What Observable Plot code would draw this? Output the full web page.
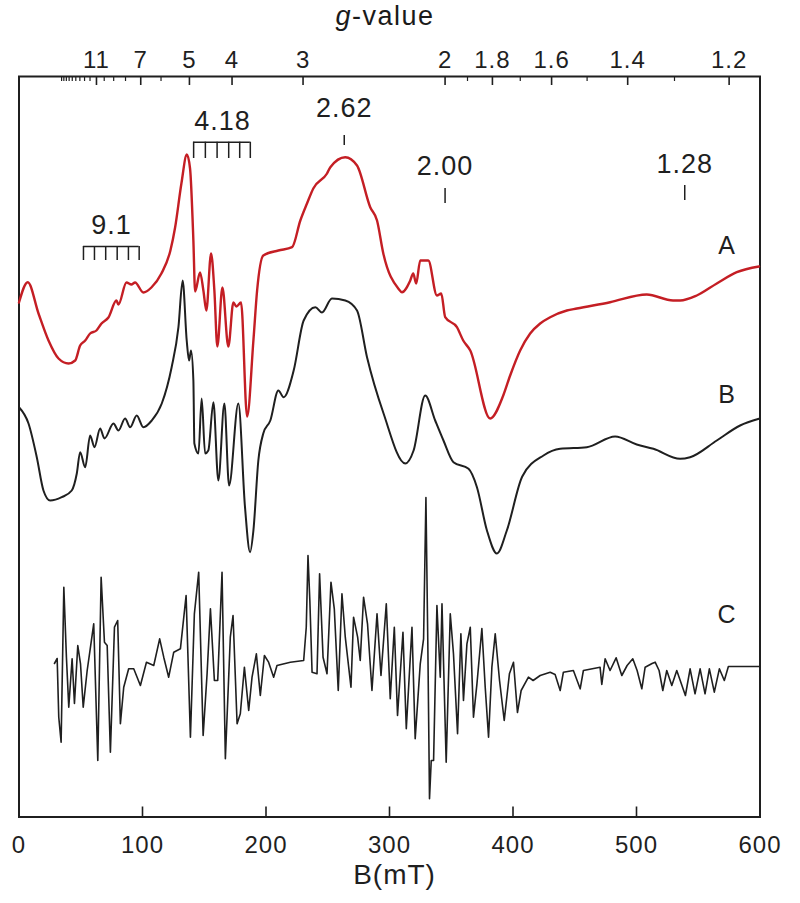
<!DOCTYPE html>
<html><head><meta charset="utf-8">
<script src="https://cdn.jsdelivr.net/npm/d3@7"></script>
<script src="https://cdn.jsdelivr.net/npm/@observablehq/plot@0.6"></script>
<style>
html,body{margin:0;padding:0;background:#fff;}
body{font-family:"Liberation Sans",Arial,sans-serif;color:#1a1a1a;width:800px;}
#title{position:relative;height:34px;}
#title span{position:absolute;left:385px;top:1px;transform:translateX(-50%);font-size:27px;line-height:31px;letter-spacing:1.5px;white-space:nowrap;padding:0 4px;}
</style></head><body>
<div id="title"><span><i>g</i>-value</span></div>
<div id="chart"></div>
<script>
// ---- data (B in mT, signal in arbitrary units, traces stacked) ----
const fieldA = [0,7.1,15.8,23.9,32.0,40.1,45.5,49.5,53.6,57.6,62.7,66.8,72.4,78.9,80.5,87.0,91.0,94.0,100.7,107.2,115.3,122.6,126.4,131.5,135.9,138.5,141.2,142.6,146.6,149.3,151.7,155.5,158.2,160.6,164.7,169.5,173.6,176.0,179.8,184.7,189.8,192.8,197.8,210.0,221.1,227.8,233.2,238.3,249.4,252.1,264.2,273.7,284.4,289.9,295.0,307.1,310.1,316.8,319.2,321.6,324.9,331.4,338.4,341.9,345.1,354.6,359.7,365.4,381.5,392.1,397.7,405.8,413.9,422.0,430.1,443.6,451.7,478.6,508.3,529.6,535.3,548.8,565.0,581.2,599.2];
const signalA = [514.5,534.8,503.5,476.5,458.5,453.5,456.5,471.5,476.5,483.5,486.5,493.5,499.5,516.5,512.5,534.5,532.5,534.5,524.5,529.5,543.5,566.5,589.5,633.5,662.5,648.5,576.5,525.5,544.5,526.5,506.5,563.5,526.5,470.5,529.5,470.5,514.5,510.5,514.5,400.5,476.5,526.5,561.5,566.5,569.8,596.5,613.5,628.5,643.5,649.8,659.8,651.5,609.8,596.5,563.5,528.5,524.8,536.5,543.5,533.5,556.5,556.5,521.5,523.5,499.8,489.8,476.5,466.5,398.5,421.5,441.5,466.5,483.5,493.5,499.8,506.5,508.5,514.8,522.5,516.5,516.5,521.5,533.5,544.8,550.5];

const fieldB = [0,7.7,14.4,19.8,25.2,34.6,42.7,46.8,49.5,53.6,57.6,61.1,65.7,69.2,76.5,80.5,85.9,90.0,95.3,100.7,107.5,115.6,123.6,129.1,132.5,135.8,137.7,139.3,141.2,142.0,145.3,147.9,150.7,153.3,157.4,161.4,166.3,170.1,177.6,183.0,187.1,189.8,193.8,197.8,203.5,210.0,214.3,222.4,230.5,240.0,245.3,253.4,264.2,273.7,281.8,295.2,312.8,319.5,328.9,337.0,343.7,351.8,364.0,370.8,378.9,387.0,395.0,407.5,424.7,438.2,459.8,482.7,500.2,513.7,535.3,543.4,565.0,583.9,599.2];
const signalB = [409.8,393.5,359.8,326.5,316.5,319.8,326.5,343.5,364.8,349.8,381.5,369.8,388.5,378.5,393.5,386.5,398.5,389.8,401.5,389.8,396.5,413.5,449.8,489.8,536.5,476.5,456.5,466.5,436.5,373.5,363.5,418.5,363.5,366.5,414.8,336.5,413.5,331.5,413.5,309.8,264.8,286.5,356.5,383.5,396.5,426.5,419.8,446.5,496.5,509.8,504.5,518.5,516.5,506.5,459.8,403.5,353.5,366.5,421.5,396.5,376.5,354.8,348.2,329.8,286.5,263.5,286.5,340.5,361.5,368.2,369.8,380.5,372.5,368.2,358.2,359.8,376.5,391.5,398.2];

const fieldC = [28.7,30.9,32.2,34.1,36.3,38.4,40.3,43.0,44.9,47.6,49.8,52.0,55.2,57.3,60.5,63.8,66.5,69.2,71.4,74.0,77.3,79.9,82.1,84.8,88.8,92.9,98.3,103.2,109.1,113.9,117.2,121.2,125.3,130.7,135.3,138.8,142.0,145.5,149.1,152.3,155.0,158.2,160.9,164.4,167.1,171.1,173.3,176.6,179.2,182.5,186.0,188.7,192.2,195.4,198.7,202.1,206.2,208.9,219.7,230.5,232.6,234.0,235.5,237.3,241.3,243.4,246.2,249.4,252.6,255.3,258.5,261.5,264.2,268.8,270.9,274.2,276.3,279.0,282.2,285.8,289.9,293.1,297.4,300.6,303.9,306.5,310.9,313.6,318.2,320.8,324.9,327.6,329.5,331.0,332.4,333.8,335.7,338.4,341.1,342.5,345.9,349.2,351.8,355.1,357.8,359.9,362.7,365.4,368.0,370.8,374.8,377.5,380.2,382.9,385.6,389.1,392.9,397.1,400.4,403.6,406.6,412.5,416.3,422.0,430.1,434.1,438.2,440.8,448.9,454.4,457.0,470.5,471.9,474.6,478.6,483.5,488.1,492.4,497.0,500.5,504.3,507.0,512.6,515.1,518.3,521.3,524.5,528.6,532.6,539.6,543.4,547.4,551.5,555.5,559.0,563.0,567.1,571.1,574.4,599.2];
const signalC = [153.5,158.5,99.8,74.8,229.8,159.8,109.8,158.2,113.5,171.5,153.2,109.8,146.5,164.8,193.2,56.5,239.8,174.8,171.5,64.8,189.8,196.5,93.2,129.8,148.2,148.2,131.5,154.8,151.5,178.2,159.8,139.8,164.8,168.2,221.5,79.8,203.2,244.8,81.5,143.2,208.2,136.5,136.5,244.8,58.2,179.8,201.5,93.2,103.2,149.8,106.5,139.8,163.2,121.5,161.5,154.8,139.8,151.5,154.8,156.5,189.8,261.5,216.5,144.8,143.2,243.2,159.8,143.2,234.8,208.2,126.5,223.2,179.8,129.8,199.8,179.8,156.5,219.8,193.2,126.5,203.2,141.5,213.2,118.2,189.8,101.5,184.8,88.2,189.8,78.2,153.2,178.2,319.5,176.5,18.2,56.5,56.5,211.5,139.8,213.2,54.8,203.2,163.2,83.2,183.2,116.5,173.2,189.8,99.8,133.2,188.5,129.8,79.8,149.8,183.2,136.5,96.5,143.2,154.8,104.5,126.5,139.8,136.5,141.5,144.8,142.5,126.5,144.8,146.5,128.2,146.5,149.8,132.5,158.2,146.5,159.2,141.5,151.5,158.2,146.5,128.2,149.8,153.5,154.8,146.5,126.5,146.5,131.5,146.5,121.5,148.2,123.2,148.2,123.2,148.2,124.8,148.2,136.5,150.5,150.5];

// axes
const fieldTicks = [0, 100, 200, 300, 400, 500, 600];
const gMajor = [11, 7, 5, 4, 3, 2, 1.8, 1.6, 1.4, 1.2];
const gMinor = [20, 19, 18, 17, 16, 15, 14, 13, 12, 10, 9, 8, 6, 1.9, 1.7, 1.5, 1.3];

// annotations
const hfs91 = [52.2, 61.1, 70.2, 79.5, 88.6, 97.3];       // g = 9.1 sextet lines (mT)
const hfs418 = [141.4, 150.9, 160.4, 169.8, 178.7, 187.3]; // g = 4.18 sextet lines (mT)
const gMarks = [2.62, 2.00, 1.28];
const gMarkLabels = ["2.62", "2.00", "1.28"];
const traceNames = ["A", "B", "C"];

// g <-> B conversion (B[mT] = h·ν/(μB·g), ν ≈ 9.66 GHz)
const K = 690;
const toB = g => K / g;

const table = (xs, ys) => xs.map((b, i) => ({B: b, s: ys[i]}));
const A = table(fieldA, signalA), Bt = table(fieldB, signalB), C = table(fieldC, signalC);

const red = "#c41e24", ink = "#1f1f1f";

const chart = Plot.plot({
  width: 800, height: 869,
  marginTop: 42, marginRight: 40.5, marginBottom: 86.5, marginLeft: 18.5,
  x: {domain: [0, 600]},
  y: {domain: [0, 740.5], axis: null},
  style: {fontFamily: "'Liberation Sans', Arial, sans-serif", fontSize: "24px", color: ink, background: "white", letterSpacing: "1px", overflow: "visible"},
  marks: [
    // bottom field axis, inward ticks
    Plot.axisX(fieldTicks, {anchor: "bottom", tickSize: 10, dy: -10, tickFormat: () => "", label: null, stroke: ink, strokeWidth: 1.6}),
    Plot.axisX(fieldTicks, {anchor: "bottom", tickSize: 0, tickPadding: 18.5, label: null, fontSize: 24, fill: ink}),
    // top g axis, inward ticks
    Plot.axisX(gMajor.map(toB), {anchor: "top", tickSize: 8, dy: 8, tickFormat: () => "", label: null, stroke: ink, strokeWidth: 1.6}),
    Plot.axisX(gMinor.map(toB), {anchor: "top", tickSize: 4, dy: 4, tickFormat: () => "", label: null, stroke: ink, strokeWidth: 1.2}),
    Plot.axisX(gMajor.map(toB), {anchor: "top", tickSize: 0, tickPadding: 9, label: null, fontSize: 24, fill: ink,
      tickFormat: d => String(+(K / d).toPrecision(4))}),
    Plot.frame({stroke: ink, strokeWidth: 2}),
    // spectra
    Plot.line(C, {x: "B", y: "s", stroke: ink, strokeWidth: 1.6}),
    Plot.line(Bt, {x: "B", y: "s", stroke: ink, strokeWidth: 2, curve: "monotone-x"}),
    Plot.line(A, {x: "B", y: "s", stroke: red, strokeWidth: 2.4, curve: "monotone-x"}),
    // hyperfine stick diagrams
    Plot.ruleX(hfs91, {y1: 556.5, y2: 570.5, stroke: ink, strokeWidth: 1.5}),
    Plot.ruleY([570.5], {x1: d3.min(hfs91), x2: d3.max(hfs91), stroke: ink, strokeWidth: 1.5}),
    Plot.text(["9.1"], {x: d3.mean(hfs91), y: 591.5, text: d => d, fontSize: 27, fill: ink}),
    Plot.ruleX(hfs418, {y1: 658.5, y2: 674.8, stroke: ink, strokeWidth: 1.5}),
    Plot.ruleY([674.8], {x1: d3.min(hfs418), x2: d3.max(hfs418), stroke: ink, strokeWidth: 1.5}),
    Plot.text(["4.18"], {x: d3.mean(hfs418), y: 695.5, text: d => d, fontSize: 27, fill: ink}),
    // single g markers
    Plot.ruleX(gMarks, {x: toB, y1: [671.5, 613.5, 616.5], y2: [681.5, 628.5, 631.5], stroke: ink, strokeWidth: 1.5}),
    Plot.text(gMarks, {x: toB, y: [708.5, 650.5, 652.5], text: (d, i) => gMarkLabels[i], fontSize: 27, fill: ink}),
    // trace names
    Plot.text(traceNames, {x: 573.3, y: [571.5, 422.5, 202.5], text: d => d, fontSize: 25, fill: ink}),
    // field axis title
    Plot.text(["B(mT)"], {frameAnchor: "bottom", dx: 5, dy: 66.5, text: d => d, fontSize: 28, fill: ink})
  ]
});
document.getElementById("chart").appendChild(chart);
</script>
</body></html>
